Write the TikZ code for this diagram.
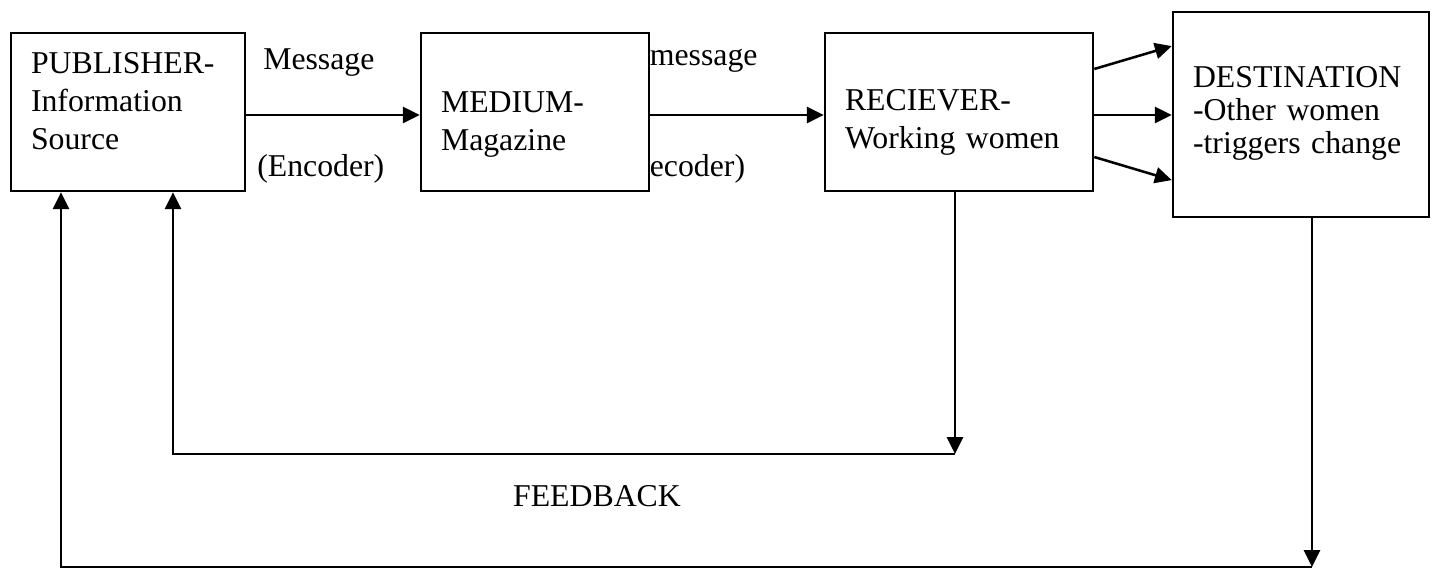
\documentclass[tikz,border=0pt]{standalone}
\usepackage{fontspec}
\setmainfont{Liberation Serif}
\usepackage{xcolor}
\usepackage{tikz}
\usetikzlibrary{arrows.meta, positioning, calc}

\begin{document}
\begin{tikzpicture}[
    box/.style={draw, line width=1.8pt, inner xsep=0.5cm, inner ysep=0pt, align=left,
                font=\fontsize{22.6}{27}\selectfont},
    flow/.style={line width=1.8pt, -{Triangle[length=0.42cm, width=0.4cm]}},
    lbl/.style={font=\fontsize{22.6}{27}\selectfont, inner sep=0pt, anchor=base west}
]
\useasboundingbox (0,0) rectangle (35.85,14.25);

% --- Boxes ---
\node[box, minimum width=5.85cm, text width=4.85cm, text height=1.01cm, text depth=2.94cm]
    (pub) at (3.2,11.45) {PUBLISHER-\\Information\\Source};
\node[box, minimum width=5.7cm, text width=4.7cm, text height=1.99cm, text depth=1.96cm]
    (med) at (13.375,11.45) {MEDIUM-\\Magazine};
\node[box, minimum width=6.7cm, text width=5.7cm, text height=1.95cm, text depth=2.0cm]
    (rec) at (23.975,11.45) {RECIEVER-\\Working women};
\node[box, minimum width=6.4cm, text width=5.4cm, text height=1.89cm, text depth=3.235cm,
      font=\fontsize{22.6}{23.5}\selectfont]
    (dest) at (32.525,11.3875) {DESTINATION\\-Other women\\-triggers change};

% --- Message flow ---
\draw[flow] ([yshift=-0.075cm]pub.east) -- ([yshift=-0.075cm]med.west);
\draw[flow] ([yshift=-0.075cm]med.east) -- ([yshift=-0.075cm]rec.west);
\draw[flow] ([yshift=1.075cm]rec.east) -- ([yshift=1.71cm]dest.west);
\draw[flow] ([yshift=-0.075cm]rec.east) -- ([yshift=-0.075cm]rec.east -| dest.west);
\draw[flow] ([yshift=-1.125cm]rec.east) -- ([yshift=-1.64cm]dest.west);

\node[lbl] (msgin) at (6.575,12.5) {Message};
\node[lbl] (enc) at (6.425,9.83) {(Encoder)};
\node[lbl] (msgout) at (16.24,12.6) {message};
\node[lbl] (dec) at (16.24,9.83) {ecoder)};

% --- Feedback loops ---
\coordinate (fbA) at (23.875,2.9);
\coordinate (fbB) at (4.325,2.9);
\draw[flow] (rec.south -| fbA) -- (fbA);
\draw[flow] (fbA) -- (fbB) -- (fbB |- pub.south);

\coordinate (fbC) at (32.8,0.075);
\coordinate (fbD) at (1.525,0.075);
\draw[flow] (dest.south -| fbC) -- (fbC);
\draw[flow] (fbC) -- (fbD) -- (fbD |- pub.south);

\node[font=\fontsize{22.6}{27}\selectfont, inner sep=0pt] (fbtext) at (14.925,1.85) {FEEDBACK};

\end{tikzpicture}
\end{document}
